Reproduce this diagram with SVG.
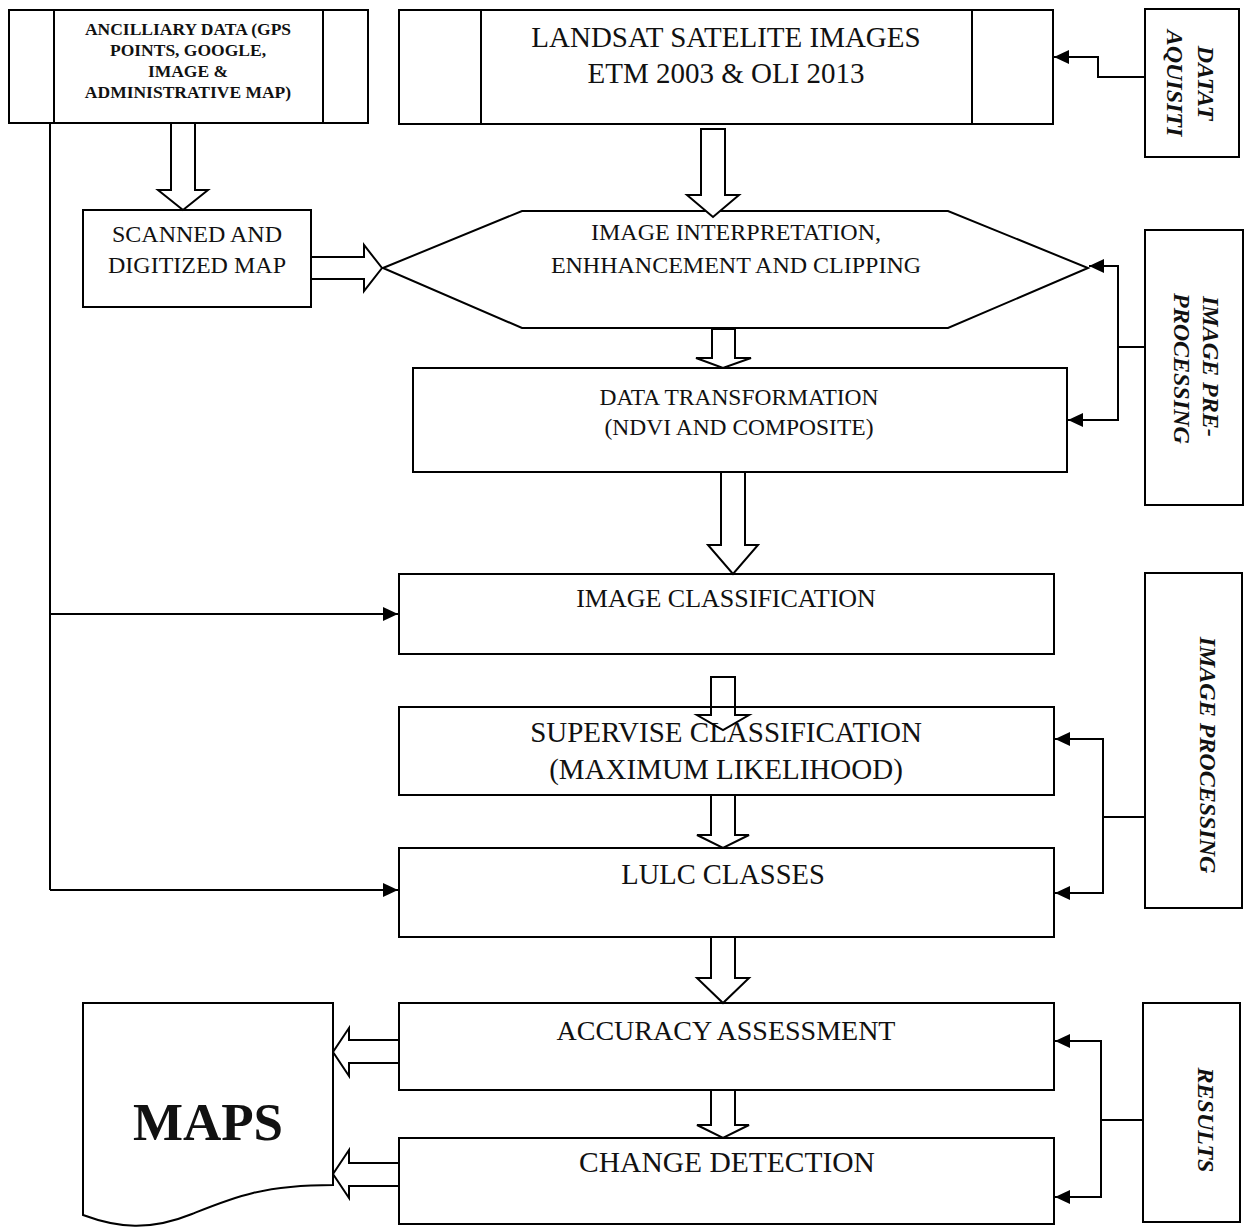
<svg xmlns="http://www.w3.org/2000/svg" width="1248" height="1227" viewBox="0 0 1248 1227">
<style>
.box{fill:#fff;stroke:#000;stroke-width:2}
.ln{fill:none;stroke:#000;stroke-width:2}
.ha{fill:#fff;stroke:#000;stroke-width:2;stroke-linejoin:miter}
.t{font-family:"Liberation Serif","Times New Roman",serif;fill:#111;text-anchor:middle}
.b{font-family:"Liberation Serif","Times New Roman",serif;font-weight:bold;fill:#111;text-anchor:middle}
.side{font-family:"Liberation Serif","Times New Roman",serif;font-weight:bold;font-style:italic;fill:#111;font-size:24px}
.con{fill:none;stroke:#000;stroke-width:2;marker-end:url(#ah)}
</style>
<defs>
<marker id="ah" markerUnits="userSpaceOnUse" markerWidth="16" markerHeight="14" refX="15" refY="7" orient="auto">
<path d="M0,0 L15,7 L0,14 z" fill="#000"/>
</marker>
</defs>
<rect width="1248" height="1227" fill="#fff"/>

<g id="ancilliary">
<rect class="box" x="9" y="10" width="359" height="113"/>
<line class="ln" x1="54" y1="10" x2="54" y2="123"/>
<line class="ln" x1="323" y1="10" x2="323" y2="123"/>
<text class="b" font-size="17.5" x="188" y="35">ANCILLIARY DATA (GPS</text>
<text class="b" font-size="17.5" x="188" y="56">POINTS, GOOGLE,</text>
<text class="b" font-size="17.5" x="188" y="77">IMAGE &amp;</text>
<text class="b" font-size="17.5" x="188" y="98">ADMINISTRATIVE MAP)</text>
</g>

<g id="landsat">
<rect class="box" x="399" y="10" width="654" height="114"/>
<line class="ln" x1="481" y1="10" x2="481" y2="124"/>
<line class="ln" x1="972" y1="10" x2="972" y2="124"/>
<text class="t" font-size="29" x="726" y="47">LANDSAT SATELITE IMAGES</text>
<text class="t" font-size="29" x="726" y="83">ETM 2003 &amp; OLI 2013</text>
</g>

<g id="data-aquisition">
<rect class="box" x="1145" y="9" width="94" height="148"/>
<text class="side" font-size="25" text-anchor="middle" transform="translate(1198,83) rotate(90)">DATAT</text>
<text class="side" font-size="25" text-anchor="middle" transform="translate(1167,83) rotate(90)">AQUISITI</text>
</g>

<g id="scanned">
<rect class="box" x="83" y="210" width="228" height="97"/>
<text class="t" font-size="24" x="197" y="242">SCANNED AND</text>
<text class="t" font-size="24" x="197" y="273">DIGITIZED MAP</text>
</g>

<g id="interpretation">
<polygon class="box" points="383,268 522,211 948,211 1088,268 948,328 522,328"/>
<text class="t" font-size="24" x="736" y="240">IMAGE INTERPRETATION,</text>
<text class="t" font-size="24" x="736" y="273">ENHHANCEMENT AND CLIPPING</text>
</g>

<g id="transformation">
<rect class="box" x="413" y="368" width="654" height="104"/>
<text class="t" font-size="23.5" x="739" y="405">DATA TRANSFORMATION</text>
<text class="t" font-size="23.5" x="739" y="435">(NDVI AND COMPOSITE)</text>
</g>

<g id="pre-processing">
<rect class="box" x="1145" y="230" width="98" height="275"/>
<text class="side" transform="translate(1203,296) rotate(90)">IMAGE PRE-</text>
<text class="side" transform="translate(1174,293) rotate(90)">PROCESSING</text>
</g>

<g id="classification">
<rect class="box" x="399" y="574" width="655" height="80"/>
<text class="t" font-size="26" x="726" y="607">IMAGE CLASSIFICATION</text>
</g>

<g id="supervise">
<rect class="box" x="399" y="707" width="655" height="88"/>
<text class="t" font-size="29" x="726" y="742">SUPERVISE CLASSIFICATION</text>
<text class="t" font-size="29" x="726" y="779">(MAXIMUM LIKELIHOOD)</text>
</g>

<g id="lulc">
<rect class="box" x="399" y="848" width="655" height="89"/>
<text class="t" font-size="28.5" x="723" y="884">LULC CLASSES</text>
</g>

<g id="image-processing">
<rect class="box" x="1145" y="573" width="97" height="335"/>
<text class="side" text-anchor="middle" transform="translate(1200,755) rotate(90)">IMAGE PROCESSING</text>
</g>

<g id="accuracy">
<rect class="box" x="399" y="1003" width="655" height="87"/>
<text class="t" font-size="28" x="726" y="1040">ACCURACY ASSESSMENT</text>
</g>

<g id="change">
<rect class="box" x="399" y="1138" width="655" height="86"/>
<text class="t" font-size="29.5" x="727" y="1172">CHANGE DETECTION</text>
</g>

<g id="results">
<rect class="box" x="1143" y="1003" width="97" height="219"/>
<text class="side" text-anchor="middle" transform="translate(1198,1120) rotate(90)">RESULTS</text>
</g>

<g id="maps">
<path class="box" d="M83,1003 L333,1003 L333,1185 C262,1185 232,1198 192,1214 C150,1231 118,1228 83,1215 Z"/>
<text class="b" font-size="53" x="208" y="1140">MAPS</text>
</g>

<g id="connectors">
<polygon class="ha" points="171,123 195,123 195,190 208,190 183,210 158,190 171,190"/>
<polygon class="ha" points="701,129 725,129 725,195 739,195 713,217 687,195 701,195"/>
<polygon class="ha" points="311,257 364,257 364,245 382,268 364,291 364,279 311,279"/>
<polygon class="ha" points="712,329 735,329 735,358 751,358 723,368 696,358 712,358"/>
<polygon class="ha" points="721,472 745,472 745,545 758,545 733,574 708,545 721,545"/>
<polygon class="ha" style="fill:none" points="711,677 735,677 735,715 749,715 723,730 697,715 711,715"/>
<polygon class="ha" points="711,795 735,795 735,835 749,835 723,848 697,835 711,835"/>
<polygon class="ha" points="711,937 735,937 735,978 749,978 723,1003 697,978 711,978"/>
<polygon class="ha" points="711,1090 735,1090 735,1125 749,1125 723,1138 697,1125 711,1125"/>
<polygon class="ha" points="399,1040 349,1040 349,1028 333,1052 349,1076 349,1063 399,1063"/>
<polygon class="ha" points="399,1163 349,1163 349,1150 333,1174 349,1198 349,1186 399,1186"/>

<polyline class="con" points="1145,77 1098,77 1098,57 1054,57"/>

<line class="ln" x1="1145" y1="347" x2="1118" y2="347"/>
<polyline class="con" points="1118,347 1118,266 1089,266"/>
<polyline class="con" points="1118,347 1118,420 1068,420"/>

<line class="ln" x1="1145" y1="817" x2="1103" y2="817"/>
<polyline class="con" points="1103,817 1103,739 1055,739"/>
<polyline class="con" points="1103,817 1103,893 1055,893"/>

<line class="ln" x1="1143" y1="1120" x2="1101" y2="1120"/>
<polyline class="con" points="1101,1120 1101,1041 1055,1041"/>
<polyline class="con" points="1101,1120 1101,1197 1055,1197"/>

<line class="ln" x1="50" y1="123" x2="50" y2="890"/>
<line class="con" x1="50" y1="614" x2="398" y2="614"/>
<line class="con" x1="50" y1="890" x2="398" y2="890"/>
</g>
</svg>
